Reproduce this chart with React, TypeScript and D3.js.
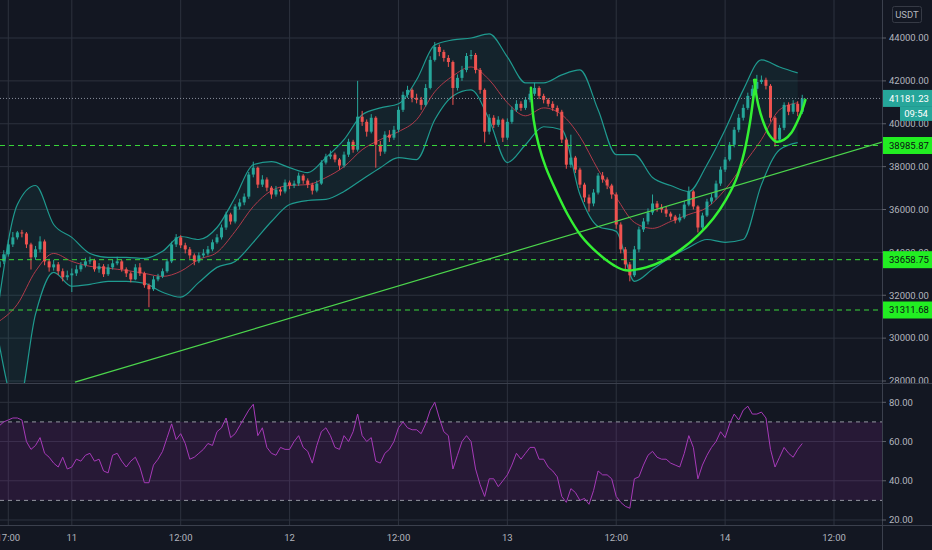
import React from "react";
import * as d3 from "d3";

// 30-minute candles, from 10th 16:00 to 14th 08:30
const firstOpen = 33300;
const closes = [
  33580, 33910, 34370, 34700, 34930, 34880, 34370, 33770, 34140, 34510,
  33580, 33300, 33440, 33120, 32840, 32930, 33020, 33210, 33400, 33580,
  33630, 33210, 33350, 32980, 33300, 33490, 33580, 33210, 33020, 32740,
  33300, 33020, 32470, 32280, 32740, 32880, 33120, 33580, 34370, 34700,
  34330, 34140, 33860, 33580, 33860, 33950, 34140, 34470, 34700, 35160,
  35770, 35440, 36140, 36330, 36600, 37630, 37950, 37160, 37400, 37020,
  36700, 36930, 36840, 37260, 37120, 37210, 37580, 37350, 37160, 36880,
  37210, 38190, 38470, 38560, 38330, 38050, 38560, 39160, 38790, 40330,
  40090, 39630, 40280, 39020, 38700, 39490, 39350, 39720, 40650, 41350,
  41580, 41210, 41120, 40880, 41670, 42980, 43580, 43350, 43070, 42880,
  41670, 42140, 42510, 43160, 43210, 42510, 41580, 39630, 40280, 39950,
  40190, 39350, 40090, 40650, 40930, 40740, 41120, 41400, 41670, 41300,
  41120, 40930, 40740, 40560, 39260, 38090, 38420, 37860, 37160, 36560,
  36280, 36790, 37580, 37400, 37120, 36700, 35300, 34140, 33440, 32930,
  34140, 35070, 35440, 35860, 36280, 36090, 36000, 35810, 35670, 35490,
  35630, 36230, 36840, 36140, 35160, 35720, 36370, 36560, 37210, 37860,
  38330, 39020, 39720, 40280, 40740, 41300, 41630, 41950, 42050, 41770,
  40280, 39260, 39810, 40880, 40560, 40930, 40560, 41181.23,
];
const highs = [
  33950, 34100, 34600, 34950, 35000, 35050, 34950, 34450, 34300, 34750,
  34600, 33700, 33650, 33550, 33250, 33150, 33250, 33400, 33550, 33750,
  33800, 33700, 33500, 33450, 33450, 33650, 33800, 33650, 33300, 33100,
  33450, 33500, 33100, 32550, 32900, 33000, 33250, 33700, 34500, 34850,
  34800, 34450, 34250, 33950, 34000, 34150, 34300, 34600, 34850, 35300,
  35900, 35850, 36250, 36500, 36750, 37750, 38230, 38000, 37600, 37500,
  37100, 37100, 37050, 37400, 37350, 37350, 37720, 37650, 37450, 37250,
  37350, 38300, 38600, 38750, 38650, 38400, 38700, 39300, 39250, 42000,
  40600, 40200, 40450, 40350, 39200, 39650, 39700, 39900, 40800, 41500,
  41770, 41650, 41400, 41250, 41850, 43150, 43810, 43700, 43450, 43200,
  42950, 42300, 42700, 43300, 43440, 43300, 42600, 41650, 40450, 40400,
  40350, 40250, 40250, 40800, 41100, 41050, 41250, 41550, 41910, 41750,
  41400, 41200, 41050, 40850, 40650, 39350, 39490, 38500, 37950, 37250,
  36700, 36950, 37700, 37750, 37500, 37200, 36800, 35400, 34250, 33550,
  34300, 35200, 35600, 36050, 36700, 36400, 36250, 36150, 35900, 35750,
  35800, 36400, 37070, 36900, 36200, 35850, 36500, 36750, 37350, 38000,
  38450, 39150, 39850, 40450, 40900, 41450, 41800, 42280, 42250, 42150,
  41850, 40350, 39950, 41000, 41000, 41100, 41050, 41350,
];
const lows = [
  32300, 33450, 33800, 34250, 34600, 34700, 34200, 33200, 33650, 34000,
  33400, 33100, 33150, 32950, 32650, 32700, 32150, 32900, 33100, 33300,
  33450, 33100, 33050, 32850, 32900, 33200, 33400, 33100, 32850, 32600,
  32700, 32900, 32350, 31440, 32200, 32650, 32800, 33050, 33500, 34250,
  34200, 33950, 33700, 33400, 33500, 33750, 33850, 34050, 34400, 34600,
  35050, 35300, 35350, 36000, 36200, 36500, 37500, 37000, 37050, 36850,
  36500, 36600, 36650, 36750, 36950, 37000, 37100, 37200, 37000, 36700,
  36800, 37150, 38100, 38350, 38200, 37850, 37950, 38450, 38650, 38700,
  39900, 39400, 39550, 37950, 38500, 38600, 39150, 39250, 39600, 40550,
  41200, 41000, 40950, 40650, 40800, 41600, 42900, 43150, 42900, 42650,
  40880, 41550, 42000, 42400, 43000, 42350, 41400, 39120, 39500, 39800,
  39850, 39150, 39250, 40000, 40550, 40600, 40650, 41000, 41300, 41150,
  40950, 40800, 40600, 40350, 39100, 37900, 37950, 37700, 37000, 36350,
  35900, 36150, 36700, 37250, 36950, 36500, 35100, 33950, 33200, 32650,
  32850, 34000, 34950, 35300, 35750, 35900, 35850, 35650, 35500, 35350,
  35400, 35550, 36150, 36000, 34930, 35050, 35650, 36250, 36450, 37100,
  37750, 38250, 38900, 39600, 40150, 40650, 41200, 41500, 41850, 41600,
  40100, 38930, 39150, 39700, 40400, 40450, 40350, 40450,
];
const rsi = [
  68, 70, 71, 72, 72, 71, 60, 56, 58, 62,
  54, 52, 49, 47, 52, 46, 47, 51, 50, 53,
  54, 50, 51, 45, 44, 53, 54, 50, 47, 50,
  52, 47, 39, 39, 48, 51, 55, 62, 69, 61,
  64, 59, 51, 52, 54, 56, 59, 58, 65, 67,
  72, 62, 64, 68, 72, 76, 79, 63, 67, 57,
  54, 53, 57, 56, 56, 60, 63, 57, 55, 49,
  58, 65, 67, 63, 57, 56, 63, 60, 65, 74,
  63, 60, 62, 50, 49, 54, 56, 60, 67, 70,
  67, 66, 66, 64, 69, 76, 80, 72, 65, 63,
  46, 53, 60, 63, 60, 46, 38, 32, 41, 41,
  37, 40, 43, 48, 54, 51, 54, 57, 57, 51,
  51, 47, 45, 42, 32, 29, 36, 34, 30, 31,
  28, 35, 45, 43, 43, 41, 32, 29, 27, 26,
  41, 42, 48, 53, 55, 52, 51, 51, 49, 48,
  47, 54, 63, 57, 41, 48, 53, 57, 60, 65,
  62, 69, 74, 71, 76, 78, 74, 74, 75, 72,
  56, 47, 52, 57, 54, 52, 56, 59,
];

// Bollinger bands, read every 4th candle
const bandStep = 4;
const bbUpper = [
  31810, 36230, 37120, 35300, 34700, 33950, 33770, 33770, 33720, 34050,
  34740, 34600, 35160, 36560, 38090, 38230, 37950, 37720, 38420, 39260,
  40420, 40740, 40930, 42050, 43670, 43910, 44000, 44190, 43120, 41910,
  41910, 42280, 42510, 40650, 38560, 38560, 37490, 37120, 36840, 38090,
  39720, 41580, 42980, 42650, 42370,
];
const bbBasis = [
  30790, 31580, 33120, 33950, 33580, 33350, 33260, 33160, 33020, 32880,
  33120, 33670, 34000, 34980, 36140, 36880, 37120, 37160, 37490, 38000,
  38790, 39260, 39630, 40190, 41490, 42230, 42650, 42050, 40980, 40370,
  40740, 40420, 39400, 37860, 36560, 35400, 35120, 35440, 35770, 36090,
  36930, 38090, 39260, 40650, 40980,
];
const bbLower = [
  29720, 26700, 31120, 33070, 32420, 32510, 32650, 32650, 32560, 32140,
  31910, 32600, 33300, 33580, 34470, 35440, 36230, 36420, 36470, 36840,
  37400, 37950, 38420, 38330, 40190, 41300, 41580, 40190, 38190, 39020,
  39860, 39720, 36700, 35210, 34980, 32650, 33210, 33770, 34230, 34600,
  34470, 34600, 37160, 38790, 39120,
];

// drawings
const levels = [38985.87, 33658.75, 31311.68];
const lastPrice = 41181.23;
const countdown = "09:54";
const trendIdx = [16.7, 194.9];
const trendPrice = [27950, 39160];
const cupIdx = [117.2, 117.8, 118.9, 120.5, 122.7, 125.3, 128.2, 132, 135.5, 138.1, 142.6, 146.5, 150.3, 154, 157.4, 160.2, 162.4, 164.2, 165.5, 166.4, 166.8];
const cupPrice = [41674, 40186, 39023, 37953, 36884, 35767, 34791, 33953, 33395, 33163, 33302, 33628, 34140, 34791, 35581, 36465, 37395, 38651, 40093, 41488, 42047];
const handleIdx = [166.4, 167.3, 168.4, 169.7, 171.3, 173, 174.6, 175.9, 177, 177.7];
const handlePrice = [42047, 40884, 40093, 39488, 39163, 39256, 39581, 40093, 40651, 41116];

// axes
const priceTicks = [28000, 30000, 32000, 34000, 36000, 38000, 40000, 42000, 44000];
const rsiTicks = [80, 60, 40, 20];
const timeTickIdx = [2, 16, 40, 64, 88, 112, 136, 160, 184];
const timeTickLabels = ["17:00", "11", "12:00", "12", "12:00", "13", "12:00", "14", "12:00"];

const W = 932;
const H = 550;
const AX = 882;
const PRICE_BOTTOM = 383;
const RSI_BOTTOM = 525.5;

const BG = "#131722";
const GRID = "#2d323e";
const TEXT = "#b2b5be";
const UP = "#26a69a";
const DOWN = "#ef5350";
const LIME = "#33f033";
const FONT = "Roboto, 'DejaVu Sans', sans-serif";

export default function App() {
  const x = d3.scaleLinear().domain([2, 184]).range([8.3, 834]);
  const y = d3.scaleLinear().domain([28000, 44000]).range([381, 38]);
  const yr = d3.scaleLinear().domain([20, 80]).range([520, 402.3]);
  const fmt = d3.format(".2f");

  const bands = bbUpper.map((u, k) => ({ i: k * bandStep, u, m: bbBasis[k], l: bbLower[k] }));
  const bandArea = d3.area<any>().x(d => x(d.i)).y0(d => y(d.l)).y1(d => y(d.u)).curve(d3.curveMonotoneX);
  const bandLine = (key: string) =>
    d3.line<any>().x(d => x(d.i)).y(d => y(d[key])).curve(d3.curveMonotoneX)(bands) as string;

  const pts = (idx: number[], p: number[]) => idx.map((i, k) => [x(i), y(p[k])] as [number, number]);
  const smooth = d3.line().curve(d3.curveCatmullRom.alpha(0.5));

  const rsiLine = d3.line<number>().x((_, i) => x(i)).y(v => yr(v))(rsi) as string;

  const bodyW = 3;

  return (
    <svg width={W} height={H} style={{ position: "absolute", left: 0, top: 0, display: "block", background: BG }} fontFamily={FONT}>
      <defs>
        <clipPath id="pricePane"><rect x={0} y={0} width={AX} height={PRICE_BOTTOM} /></clipPath>
        <clipPath id="rsiPane"><rect x={0} y={PRICE_BOTTOM + 1} width={AX} height={RSI_BOTTOM - PRICE_BOTTOM - 1} /></clipPath>
        <clipPath id="priceAxis"><rect x={AX} y={0} width={W - AX} height={PRICE_BOTTOM} /></clipPath>
      </defs>
      <rect width={W} height={H} fill={BG} />

      {/* grid */}
      <g stroke={GRID} strokeWidth={1}>
        {priceTicks.map(t => <line key={"pg" + t} x1={0} x2={AX} y1={y(t)} y2={y(t)} />)}
        {rsiTicks.map(t => <line key={"rg" + t} x1={0} x2={AX} y1={yr(t)} y2={yr(t)} />)}
        {timeTickIdx.map((t, k) => <line key={"tg" + k} x1={x(t)} x2={x(t)} y1={0} y2={RSI_BOTTOM} />)}
      </g>

      {/* price pane */}
      <g clipPath="url(#pricePane)">
        <path d={bandArea(bands) as string} fill={UP} fillOpacity={0.09} />
        <path d={bandLine("u")} fill="none" stroke="#1f9a8f" strokeWidth={1.2} />
        <path d={bandLine("l")} fill="none" stroke="#1f9a8f" strokeWidth={1.2} />
        <path d={bandLine("m")} fill="none" stroke="#b03a4a" strokeWidth={1} />

        {closes.map((c, i) => {
          const o = i === 0 ? firstOpen : closes[i - 1];
          const col = c >= o ? UP : DOWN;
          const top = y(Math.max(o, c));
          const bh = Math.max(1, y(Math.min(o, c)) - top);
          return (
            <g key={i}>
              <line x1={x(i)} x2={x(i)} y1={y(highs[i])} y2={y(lows[i])} stroke={col} strokeWidth={1} />
              <rect x={x(i) - bodyW / 2} y={top} width={bodyW} height={bh} fill={col} />
            </g>
          );
        })}

        {levels.map(v => (
          <line key={v} x1={0} x2={AX} y1={y(v)} y2={y(v)} stroke="#3ad83a" strokeWidth={1} strokeDasharray="5 4" />
        ))}
        <line x1={0} x2={AX} y1={y(lastPrice)} y2={y(lastPrice)} stroke="#8a8f9c" strokeWidth={1} strokeDasharray="1 2" />

        <line x1={x(trendIdx[0])} y1={y(trendPrice[0])} x2={x(trendIdx[1])} y2={y(trendPrice[1])} stroke="#4cd64c" strokeWidth={1.2} />
        <path d={smooth(pts(cupIdx, cupPrice)) as string} fill="none" stroke={LIME} strokeWidth={2.5} strokeLinecap="round" />
        <path d={smooth(pts(handleIdx, handlePrice)) as string} fill="none" stroke={LIME} strokeWidth={2.5} strokeLinecap="round" />
      </g>

      {/* RSI pane */}
      <g clipPath="url(#rsiPane)">
        <rect x={0} y={yr(70)} width={AX} height={yr(30) - yr(70)} fill="#9c27b0" fillOpacity={0.15} />
        <line x1={0} x2={AX} y1={yr(70)} y2={yr(70)} stroke="#9598a1" strokeDasharray="4 4" strokeWidth={1} />
        <line x1={0} x2={AX} y1={yr(30)} y2={yr(30)} stroke="#9598a1" strokeDasharray="4 4" strokeWidth={1} />
        <path d={rsiLine} fill="none" stroke="#a63ab8" strokeWidth={1} />
      </g>

      {/* separators */}
      <g stroke="#3b404d" strokeWidth={1}>
        <line x1={0} x2={W} y1={PRICE_BOTTOM + 0.5} y2={PRICE_BOTTOM + 0.5} />
        <line x1={0} x2={W} y1={RSI_BOTTOM} y2={RSI_BOTTOM} />
        <line x1={AX + 0.5} x2={AX + 0.5} y1={0} y2={H} />
      </g>

      {/* price axis */}
      <g clipPath="url(#priceAxis)" fontSize={9.5} fill={TEXT}>
        {priceTicks.map(t => (
          <g key={"pt" + t}>
            <line x1={AX} x2={AX + 4} y1={y(t)} y2={y(t)} stroke="#5d606b" />
            <text x={AX + 7} y={y(t)} dy="0.35em">{fmt(t)}</text>
          </g>
        ))}
      </g>
      <g fontSize={9.5} fill={TEXT}>
        {rsiTicks.map(t => (
          <g key={"rt" + t}>
            <line x1={AX} x2={AX + 4} y1={yr(t)} y2={yr(t)} stroke="#5d606b" />
            <text x={AX + 7} y={yr(t)} dy="0.35em">{fmt(t)}</text>
          </g>
        ))}
        {timeTickIdx.map((t, k) => (
          <text key={"tt" + k} x={x(t)} y={538} dy="0.35em" textAnchor="middle">{timeTickLabels[k]}</text>
        ))}
      </g>

      {/* price labels */}
      <g fontSize={9.5}>
        {levels.map(v => (
          <g key={"lv" + v}>
            <rect x={AX + 1} y={y(v) - 8.5} width={W - AX - 1} height={17} fill="#22ee22" />
            <text x={AX + 7} y={y(v)} dy="0.35em" fill="#0b0e14">{fmt(v)}</text>
          </g>
        ))}
        <rect x={AX + 1} y={y(lastPrice) - 8.5} width={W - AX - 1} height={17} fill={UP} />
        <text x={AX + 7} y={y(lastPrice)} dy="0.35em" fill="#ffffff">{fmt(lastPrice)}</text>
        <rect x={900} y={y(lastPrice) + 8.5} width={W - 900} height={14} fill={UP} />
        <text x={916} y={y(lastPrice) + 15.5} dy="0.35em" fill="#ffffff" textAnchor="middle">{countdown}</text>
      </g>

      <g>
        <rect x={892.5} y={6.5} width={29} height={16} rx={2} fill={BG} stroke="#363a45" />
        <text x={907} y={14.5} dy="0.35em" textAnchor="middle" fontSize={9.5} fill={TEXT}>USDT</text>
      </g>
    </svg>
  );
}
